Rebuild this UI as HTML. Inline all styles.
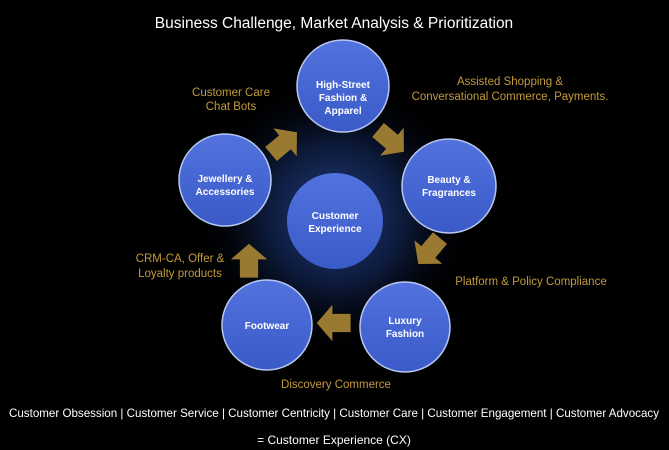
<!DOCTYPE html>
<html><head><meta charset="utf-8"><style>
html,body{margin:0;padding:0;background:#000;width:669px;height:450px;overflow:hidden;font-family:"Liberation Sans",sans-serif}
svg{display:block}
</style></head><body>
<svg width="669" height="450" viewBox="0 0 669 450" xmlns="http://www.w3.org/2000/svg">
<defs>
<radialGradient id="glow" cx="0.5" cy="0.5" r="0.5">
<stop offset="0" stop-color="#2a4a9a" stop-opacity="0.9"/>
<stop offset="0.5" stop-color="#142a60" stop-opacity="0.6"/>
<stop offset="1" stop-color="#000" stop-opacity="0"/>
</radialGradient>
<linearGradient id="ball" x1="0" y1="0" x2="0" y2="1">
<stop offset="0" stop-color="#5272de"/>
<stop offset="1" stop-color="#3a5ac8"/>
</linearGradient>
<g id="arr"><polygon points="-12,-7 2,-7 2,-14 14,0 2,14 2,7 -12,7" fill="#9a7a30" transform="scale(1.3)"/></g>
</defs>
<text x="334" y="28" fill="#fff" font-size="15.5" text-anchor="middle">Business Challenge, Market Analysis &amp; Prioritization</text>
<circle cx="335" cy="215" r="140" fill="url(#glow)"/>
<g fill="url(#ball)" stroke="#b8c8f0" stroke-width="1.5">
<circle cx="343" cy="86" r="46"/>
<circle cx="225" cy="180" r="46"/>
<circle cx="449" cy="186" r="47"/>
<circle cx="335" cy="221" r="48" stroke="none"/>
<circle cx="267" cy="325" r="45"/>
<circle cx="405" cy="327" r="45"/>
</g>
<g fill="#fff" font-size="10" font-weight="bold" text-anchor="middle">
<text x="343" y="88">High-Street</text><text x="343" y="101">Fashion &amp;</text><text x="343" y="114">Apparel</text>
<text x="225" y="182">Jewellery &amp;</text><text x="225" y="195">Accessories</text>
<text x="449" y="183">Beauty &amp;</text><text x="449" y="196">Fragrances</text>
<text x="335" y="219">Customer</text><text x="335" y="232">Experience</text>
<text x="267" y="329">Footwear</text>
<text x="405" y="324">Luxury</text><text x="405" y="337">Fashion</text>
</g>
<use href="#arr" transform="translate(283,144) rotate(-40)"/>
<use href="#arr" transform="translate(390,140) rotate(40)"/>
<use href="#arr" transform="translate(430,250) rotate(130)"/>
<use href="#arr" transform="translate(335,323) rotate(180)"/>
<use href="#arr" transform="translate(249,262) rotate(-90)"/>
<g fill="#c39a3c" font-size="11.5">
<text x="231" y="96" text-anchor="middle">Customer Care</text>
<text x="231" y="110" text-anchor="middle">Chat Bots</text>
<text x="510" y="85" text-anchor="middle">Assisted Shopping &amp;</text>
<text x="510" y="100" text-anchor="middle">Conversational Commerce, Payments.</text>
<text x="180" y="262" text-anchor="middle">CRM-CA, Offer &amp;</text>
<text x="180" y="277" text-anchor="middle">Loyalty products</text>
<text x="531" y="285" text-anchor="middle">Platform &amp; Policy Compliance</text>
<text x="336" y="388" text-anchor="middle">Discovery Commerce</text>
</g>
<text x="9" y="417" fill="#fff" font-size="12" textLength="650" lengthAdjust="spacingAndGlyphs">Customer Obsession | Customer Service | Customer Centricity | Customer Care | Customer Engagement | Customer Advocacy</text>
<text x="334" y="444" fill="#fff" font-size="12" text-anchor="middle">= Customer Experience (CX)</text>
</svg>
</body></html>
